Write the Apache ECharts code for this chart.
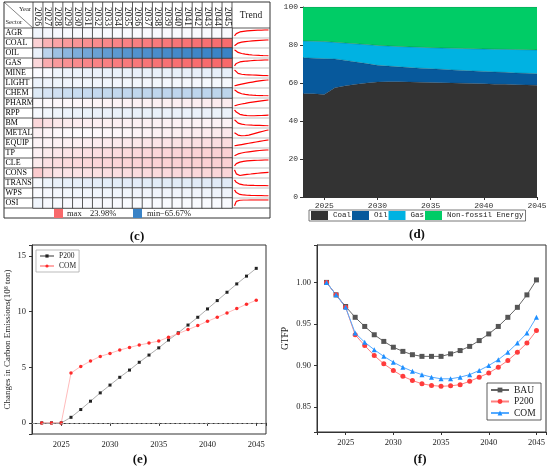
<!DOCTYPE html>
<html>
<head>
<meta charset="utf-8">
<script src="https://cdn.jsdelivr.net/npm/echarts@6/dist/echarts.min.js"></script>
<style>
  html, body { margin: 0; padding: 0; background: #fff; }
  #main { width: 550px; height: 471px; }
</style>
</head>
<body>
<div id="main"></div>
<script>
// ---- (c) sector output change vs BAU (%), 2026-2045
var heatYears = ['2026','2027','2028','2029','2030','2031','2032','2033','2034','2035',
                 '2036','2037','2038','2039','2040','2041','2042','2043','2044','2045'];
var sectors = ['AGR','COAL','OIL','GAS','MINE','LIGHT','CHEM','PHARM','RPP','BM',
               'METAL','EQUIP','TP','CLE','CONS','TRANS','WPS','OSI'];
var agr   = [-4.0,-3.0,-2.5,-2.2,-2.0,-1.9,-1.8,-1.7,-1.6,-1.55,-1.5,-1.45,-1.4,-1.37,-1.34,-1.31,-1.28,-1.25,-1.22,-1.2];
var coal  = [7.0,12.0,14.5,16.0,17.0,17.8,18.5,19.0,19.5,20.0,20.4,20.8,21.2,21.6,22.0,22.3,22.6,22.9,23.2,23.5];
var oil   = [-6.0,-22.0,-32.0,-38.0,-43.0,-46.5,-49.5,-52.0,-54.0,-56.0,-57.5,-59.0,-60.2,-61.3,-62.3,-63.2,-64.0,-64.7,-65.2,-65.67];
var gas   = [6.0,13.0,16.0,17.5,18.5,19.2,19.8,20.3,20.8,21.2,21.6,22.0,22.3,22.6,22.9,23.1,23.4,23.6,23.8,23.98];
var mine  = [-0.5,-1.5,-4.5,-5.2,-5.5,-5.7,-5.9,-6.0,-6.1,-6.2,-6.3,-6.4,-6.5,-6.6,-6.7,-6.8,-6.9,-7.0,-7.1,-7.2];
var light = [-5.0,-4.8,-4.6,-4.4,-4.2,-4.0,-3.85,-3.7,-3.55,-3.4,-3.25,-3.1,-2.95,-2.8,-2.7,-2.6,-2.5,-2.4,-2.3,-2.2];
var chem  = [-10.0,-13.0,-15.0,-16.5,-17.5,-18.2,-18.8,-19.2,-19.6,-20.0,-20.3,-20.5,-20.7,-20.9,-21.0,-21.1,-21.2,-21.3,-21.35,-21.4];
var pharm = [0.5,0.7,0.9,1.0,1.2,1.3,1.4,1.6,1.7,1.8,1.9,2.0,2.1,2.2,2.3,2.4,2.5,2.6,2.7,2.8];
var rpp   = [-2.0,-3.5,-4.5,-5.0,-5.4,-5.6,-5.8,-5.9,-6.0,-6.0,-6.0,-6.0,-5.95,-5.9,-5.85,-5.8,-5.75,-5.7,-5.65,-5.6];
var bm    = [6.0,4.5,3.5,3.0,2.7,2.5,2.3,2.2,2.1,2.0,1.95,1.9,1.85,1.8,1.75,1.7,1.65,1.6,1.55,1.5];
var metal = [2.0,1.4,1.0,0.8,0.7,0.7,0.8,0.9,1.0,1.2,1.4,1.6,1.8,2.0,2.2,2.4,2.6,2.8,3.0,3.2];
var equip = [1.5,1.7,1.9,2.1,2.3,2.5,2.7,2.9,3.1,3.3,3.5,3.7,3.9,4.1,4.3,4.5,4.7,4.9,5.1,5.3];
var tp    = [2.0,3.0,3.6,4.0,4.4,4.7,5.0,5.2,5.4,5.6,5.8,6.0,6.2,6.35,6.5,6.65,6.8,6.9,7.0,7.1];
var cle   = [3.0,4.5,5.2,5.6,5.9,6.1,6.3,6.4,6.5,6.6,6.7,6.8,6.85,6.9,6.95,7.0,7.05,7.1,7.15,7.2];
var cons  = [8.0,5.3,4.0,4.2,4.4,4.6,4.8,5.0,5.1,5.2,5.4,5.5,5.6,5.7,5.8,5.9,6.0,6.1,6.2,6.3];
var trans = [-2.0,-5.0,-6.5,-7.2,-7.6,-7.9,-8.1,-8.3,-8.4,-8.5,-8.6,-8.7,-8.8,-8.8,-8.9,-8.9,-9.0,-9.0,-9.1,-9.1];
var wps   = [-1.0,-2.5,-3.2,-3.5,-3.7,-3.8,-3.9,-3.95,-4.0,-4.05,-4.1,-4.1,-4.15,-4.15,-4.2,-4.2,-4.2,-4.25,-4.25,-4.25];
var osi   = [-4.0,-2.0,-1.6,-1.5,-1.45,-1.4,-1.4,-1.38,-1.36,-1.35,-1.34,-1.33,-1.32,-1.31,-1.3,-1.3,-1.3,-1.3,-1.3,-1.3];

// ---- (d) energy structure (%), (e) carbon change, (f) GTFP
var years = [2023,2024,2025,2026,2027,2028,2029,2030,2031,2032,2033,2034,
             2035,2036,2037,2038,2039,2040,2041,2042,2043,2044,2045];
var coalShare  = [54.4,54.3,54.0,57.5,58.5,59.3,60.0,60.5,60.6,60.6,60.5,60.4,60.2,60.1,60.0,59.9,59.7,59.6,59.4,59.3,59.1,59.0,58.8];
var oilShare   = [18.9,18.7,18.8,15.1,13.4,11.7,10.2,8.8,8.3,7.9,7.6,7.4,7.3,7.1,6.9,6.7,6.6,6.5,6.4,6.3,6.2,6.1,6.1];
var gasShare   = [8.8,9.0,9.0,8.8,9.1,9.6,10.0,10.5,10.6,10.7,10.9,11.0,11.1,11.2,11.4,11.6,11.7,11.8,12.0,12.1,12.3,12.4,12.5];
var nonFossil  = [17.9,18.0,18.2,18.6,19.0,19.4,19.8,20.2,20.5,20.8,21.0,21.2,21.4,21.6,21.7,21.8,22.0,22.1,22.2,22.3,22.4,22.5,22.6];

var p200Emis = [0,0,0,0.5,1.2,1.95,2.7,3.4,4.1,4.75,5.45,6.1,6.75,7.45,8.1,8.8,9.5,10.25,11.0,11.75,12.5,13.2,13.9];
var comEmis  = [0,0,0,4.48,5.08,5.56,5.98,6.25,6.55,6.79,7.0,7.18,7.36,7.7,8.03,8.39,8.75,9.14,9.5,9.89,10.28,10.67,11.03];

var bauGtfp  = [1.000,0.985,0.971,0.958,0.947,0.937,0.929,0.922,0.917,0.913,0.911,0.911,0.911,0.914,0.918,0.923,0.930,0.938,0.947,0.958,0.970,0.985,1.003];
var p200Gtfp = [1.000,0.985,0.970,0.937,0.924,0.912,0.902,0.894,0.887,0.882,0.878,0.876,0.875,0.8755,0.877,0.881,0.886,0.891,0.898,0.906,0.916,0.927,0.942];
var comGtfp  = [1.000,0.985,0.970,0.939,0.928,0.919,0.911,0.904,0.898,0.893,0.889,0.886,0.884,0.884,0.886,0.889,0.894,0.900,0.907,0.916,0.927,0.939,0.958];

var SERIF = '"Liberation Serif", "Times New Roman", serif';
var MONO = '"Liberation Mono", monospace';

var chart = echarts.init(document.getElementById('main'));

// heatmap cells, split so that white sits at zero
var rows = [agr,coal,oil,gas,mine,light,chem,pharm,rpp,bm,metal,equip,tp,cle,cons,trans,wps,osi];
var posData = [], negData = [];
var maxVal = -Infinity, minVal = Infinity;
rows.forEach(function (r, i) {
  r.forEach(function (v, j) {
    (v >= 0 ? posData : negData).push([j, i, v]);
    maxVal = Math.max(maxVal, v);
    minVal = Math.min(minVal, v);
  });
});

// table layout
var tL = 4, tT = 2, tR = 270, tB = 218, secR = 33, heatR = 232, headB = 28, rowH = 10, legT = 208;
var colW = (heatR - secR) / heatYears.length;

var grids = [{ left: secR, top: headB, width: heatR - secR, height: legT - headB }];
var xAxes = [{
  type: 'category', gridIndex: 0, position: 'top', data: heatYears,
  axisLine: { show: false }, axisTick: { show: false }, splitLine: { show: false },
  axisLabel: { rotate: 90, interval: 0, margin: 2, fontSize: 9.5, fontFamily: SERIF, color: '#222' }
}];
var yAxes = [{
  type: 'category', gridIndex: 0, data: sectors, inverse: true,
  axisLine: { show: false }, axisTick: { show: false }, splitLine: { show: false },
  axisLabel: { interval: 0, align: 'left', margin: secR - tL - 1.5, fontSize: 8, fontFamily: SERIF, color: '#000' }
}];
var series = [
  { name: 'pos', type: 'heatmap', xAxisIndex: 0, yAxisIndex: 0, data: posData,
    itemStyle: { borderColor: '#3a3a3a', borderWidth: 0.8 }, emphasis: { disabled: true } },
  { name: 'neg', type: 'heatmap', xAxisIndex: 0, yAxisIndex: 0, data: negData,
    itemStyle: { borderColor: '#3a3a3a', borderWidth: 0.8 }, emphasis: { disabled: true } }
];

// trend sparklines, one small grid per sector row
rows.forEach(function (r, i) {
  var gi = grids.length;
  grids.push({ left: heatR + 2.5, top: headB + i * rowH + 1.8, width: tR - heatR - 4, height: rowH - 4 });
  xAxes.push({ type: 'category', gridIndex: gi, show: false, boundaryGap: false, data: heatYears });
  yAxes.push({ type: 'value', gridIndex: gi, show: false, scale: true,
    min: function (v) { return v.min; }, max: function (v) { return v.max; } });
  series.push({ name: 'trend-' + sectors[i], type: 'line', xAxisIndex: gi, yAxisIndex: gi, data: r,
    symbol: 'none', silent: true, lineStyle: { color: '#ff0000', width: 1.2 } });
});

// (d) grid
var gD = grids.length;
grids.push({ left: 303, top: 7, width: 234, height: 190 });
xAxes.push({
  type: 'category', gridIndex: gD, data: years, boundaryGap: false,
  axisLine: { lineStyle: { color: '#333' } },
  axisTick: { length: 3, interval: function (i, v) { return v % 5 === 0; }, lineStyle: { color: '#333' } },
  axisLabel: { interval: function (i, v) { return v % 5 === 0; }, margin: 5, fontSize: 8, fontFamily: MONO, color: '#333' },
  splitLine: { show: false }
});
yAxes.push({
  type: 'value', gridIndex: gD, min: 0, max: 100, interval: 20,
  axisLine: { show: true, lineStyle: { color: '#333' } },
  axisTick: { show: true, length: 3, lineStyle: { color: '#333' } },
  axisLabel: { margin: 5, fontSize: 8, fontFamily: MONO, color: '#333' },
  splitLine: { show: false }
});
[['Coal', coalShare, '#333333'], ['Oil', oilShare, '#07599c'],
 ['Gas', gasShare, '#00b2e2'], ['Non-fossil Energy', nonFossil, '#00cc66']].forEach(function (s) {
  series.push({ name: s[0], type: 'line', xAxisIndex: gD, yAxisIndex: gD, stack: 'energy', data: s[1],
    symbol: 'none', itemStyle: { color: s[2] }, lineStyle: { width: 0.5, color: '#222', opacity: 0.5 },
    areaStyle: { color: s[2], opacity: 1 } });
});

// (e) grid
var gE = grids.length;
grids.push({ left: 32, top: 245, width: 234, height: 189, show: true, borderColor: '#333', borderWidth: 1 });
xAxes.push({
  type: 'value', gridIndex: gE, min: 2022, max: 2046, splitNumber: 5,
  axisLine: { lineStyle: { color: '#333' } },
  axisTick: { length: 3, lineStyle: { color: '#333' } },
  axisLabel: { margin: 6, fontSize: 8.5, fontFamily: SERIF, color: '#222',
    formatter: function (v) { return v % 5 === 0 ? String(v) : ''; } },
  splitLine: { show: false }
});
yAxes.push({
  type: 'value', gridIndex: gE, min: -1, max: 16, splitNumber: 4,
  name: '{a|Changes in Carbon Emissions(10}{s|8}{a| ton)}',
  nameLocation: 'middle', nameRotate: 90, nameGap: 19,
  nameTextStyle: { rich: {
    a: { fontFamily: SERIF, fontSize: 9, color: '#222' },
    s: { fontFamily: SERIF, fontSize: 6, color: '#222', verticalAlign: 'top', padding: [0, 0, 4, 0] } } },
  axisLine: { show: true, lineStyle: { color: '#333' } },
  axisTick: { show: true, length: 3, lineStyle: { color: '#333' } },
  axisLabel: { margin: 6, fontSize: 8.5, fontFamily: SERIF, color: '#222',
    formatter: function (v) { return v % 5 === 0 ? String(v) : ''; } },
  splitLine: { show: false }
});
series.push({
  name: 'P200', type: 'line', xAxisIndex: gE, yAxisIndex: gE,
  data: years.map(function (y, i) { return [y, p200Emis[i]]; }),
  symbol: 'rect', symbolSize: 3, itemStyle: { color: '#222' }, lineStyle: { color: '#9a9a9a', width: 0.8 },
  markLine: { silent: true, symbol: 'none', label: { show: false },
    lineStyle: { color: '#aaa', type: 'dashed', width: 0.8 }, data: [{ yAxis: 0 }] }
});
series.push({
  name: 'COM', type: 'line', xAxisIndex: gE, yAxisIndex: gE,
  data: years.map(function (y, i) { return [y, comEmis[i]]; }),
  symbol: 'circle', symbolSize: 3.5, itemStyle: { color: '#ff2a2a' }, lineStyle: { color: '#ffaaaa', width: 0.8 }
});

// (f) grid
var gF = grids.length;
grids.push({ left: 317, top: 245, width: 229, height: 187, show: true, borderColor: '#333', borderWidth: 1 });
xAxes.push({
  type: 'value', gridIndex: gF, min: 2022, max: 2046, splitNumber: 5,
  axisLine: { lineStyle: { color: '#333' } },
  axisTick: { length: 3, lineStyle: { color: '#333' } },
  axisLabel: { margin: 6, fontSize: 8.5, fontFamily: SERIF, color: '#222',
    formatter: function (v) { return v % 5 === 0 ? String(v) : ''; } },
  splitLine: { show: false }
});
yAxes.push({
  type: 'value', gridIndex: gF, min: 0.82, max: 1.045, splitNumber: 5,
  name: 'GTFP', nameLocation: 'middle', nameRotate: 90, nameGap: 27,
  nameTextStyle: { fontFamily: SERIF, fontSize: 9.5, color: '#222' },
  axisLine: { show: true, lineStyle: { color: '#333' } },
  axisTick: { show: true, length: 3, lineStyle: { color: '#333' } },
  axisLabel: { margin: 6, fontSize: 8.5, fontFamily: SERIF, color: '#222',
    formatter: function (v) { return Math.abs(v * 20 - Math.round(v * 20)) < 1e-6 ? v.toFixed(2) : ''; } },
  splitLine: { show: false }
});
[['BAU', bauGtfp, 'rect', '#555555', '#666666'],
 ['P200 ', p200Gtfp, 'circle', '#ff3b3b', '#ff8080'],
 ['COM ', comGtfp, 'triangle', '#1e8fff', '#55aaff']].forEach(function (s) {
  series.push({ name: s[0], type: 'line', xAxisIndex: gF, yAxisIndex: gF,
    data: years.map(function (y, i) { return [y, s[1][i]]; }),
    symbol: s[2], symbolSize: 5, itemStyle: { color: s[3] }, lineStyle: { color: s[4], width: 1 } });
});

// table lines and texts for (c)
var graphic = [];
function line(x1, y1, x2, y2, c, w) {
  graphic.push({ type: 'line', silent: true, shape: { x1: x1, y1: y1, x2: x2, y2: y2 },
    style: { stroke: c || '#333', lineWidth: w || 0.8 } });
}
function text(x, y, t, opt) {
  graphic.push({ type: 'text', silent: true, x: x, y: y,
    style: Object.assign({ text: t, fontFamily: SERIF, fontSize: 9, fill: '#222',
      textAlign: 'left', textVerticalAlign: 'middle' }, opt || {}) });
}
graphic.push({ type: 'rect', silent: true, shape: { x: tL, y: tT, width: tR - tL, height: tB - tT },
  style: { fill: 'none', stroke: '#333', lineWidth: 1 } });
line(secR, tT, secR, legT);
line(heatR, tT, heatR, legT);
line(tL, headB, tR, headB);
line(tL, legT, tR, legT);
for (var k = 1; k < heatYears.length; k++) line(secR + k * colW, tT, secR + k * colW, headB);
for (var i = 1; i < sectors.length; i++) {
  line(tL, headB + i * rowH, secR, headB + i * rowH);
  line(heatR, headB + i * rowH, tR, headB + i * rowH, '#999', 0.6);
}
line(tL, tT, secR, headB, '#333', 0.6);
text(secR - 2, 9, 'Year', { fontSize: 6.5, textAlign: 'right' });
text(tL + 1.5, 22, 'Sector', { fontSize: 6.5 });
text((heatR + tR) / 2, 15, 'Trend', { fontSize: 9.5, textAlign: 'center' });
graphic.push({ type: 'rect', silent: true, shape: { x: 54, y: legT + 0.5, width: 9, height: 9.5 }, style: { fill: '#F8696B' } });
text(67, 213.5, 'max', { fontSize: 8.5 });
text(90, 213.5, maxVal.toFixed(2) + '%', { fontSize: 8.5 });
graphic.push({ type: 'rect', silent: true, shape: { x: 133, y: legT + 0.5, width: 9, height: 9.5 }, style: { fill: '#3a83c6' } });
text(147, 213.5, 'min', { fontSize: 8.5 });
text(160, 213.5, minVal.toFixed(2).replace('-', '\u2212') + '%', { fontSize: 8.5 });

// panel labels
[['(c)', 137, 237], ['(d)', 417, 235], ['(e)', 140, 460], ['(f)', 420, 460]].forEach(function (p) {
  text(p[1], p[2], p[0], { fontSize: 13, fontWeight: 'bold', fill: '#111', textAlign: 'center' });
});

var option = {
  animation: false,
  backgroundColor: '#fff',
  grid: grids,
  xAxis: xAxes,
  yAxis: yAxes,
  visualMap: [
    { type: 'continuous', show: false, seriesIndex: 0, min: 0, max: maxVal, inRange: { color: ['#FCFCFF', '#F8696B'] } },
    { type: 'continuous', show: false, seriesIndex: 1, min: minVal, max: 0, inRange: { color: ['#3a83c6', '#FCFCFF'] } }
  ],
  legend: [
    { data: ['Coal', 'Oil', 'Gas', 'Non-fossil Energy'], left: 309, top: 210, icon: 'rect',
      itemWidth: 17, itemHeight: 9, itemGap: 1, padding: [1, 2], borderColor: '#555', borderWidth: 0.8,
      textStyle: { fontFamily: MONO, fontSize: 7.5, color: '#222' } },
    { data: ['P200', 'COM'], left: 36, top: 250, orient: 'vertical',
      itemWidth: 14, itemHeight: 4, itemGap: 2, padding: [2, 3], borderColor: '#aaa', borderWidth: 0.8,
      textStyle: { fontFamily: SERIF, fontSize: 7.5, color: '#222' } },
    { data: ['BAU', 'P200 ', 'COM '], left: 487, top: 383, orient: 'vertical',
      itemWidth: 18, itemHeight: 6, itemGap: 1.5, padding: [2, 3], borderColor: '#333', borderWidth: 0.8,
      textStyle: { fontFamily: SERIF, fontSize: 9.5, color: '#222' } }
  ],
  graphic: graphic,
  series: series
};
chart.setOption(option);
</script>
</body>
</html>
